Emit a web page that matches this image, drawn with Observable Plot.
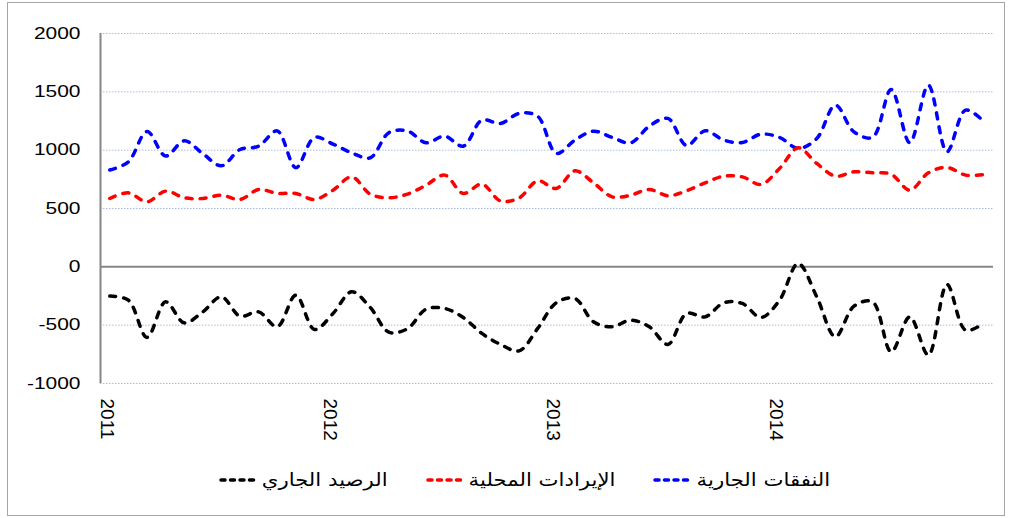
<!DOCTYPE html>
<html><head><meta charset="utf-8">
<script src="https://cdn.jsdelivr.net/npm/d3@7"></script>
<script src="https://cdn.jsdelivr.net/npm/@observablehq/plot@0.6"></script>
<style>
body{margin:0;background:#fff;width:1011px;height:518px;overflow:hidden;position:relative;font-family:"Liberation Sans",Arial,sans-serif;}
#frame{position:absolute;left:7px;top:2px;width:998px;height:514px;border:1px solid #a6a6a6;box-sizing:border-box;}
#chart{position:absolute;left:0;top:0;}
#legend{position:absolute;top:469px;right:181px;display:flex;direction:rtl;gap:37px;align-items:center;}
#legend .item{display:flex;align-items:center;direction:rtl;font-family:"DejaVu Sans",sans-serif;font-size:18px;color:#000;white-space:nowrap;}
#legend .item span{display:inline-block;transform-origin:100% 50%;transform:scaleX(1.18);}
#legend svg{display:block;}
</style>
</head><body>
<div id="frame"></div>
<div id="chart"></div>
<div id="legend"></div>
<script>
const years = ["2011","2012","2013","2014"];
const seriesNames = ["النفقات الجارية","الإيرادات المحلية","الرصيد الجاري"];
const seriesColors = ["#0000ff","#ff0000","#000000"];
const yTicks = [-1000,-500,0,500,1000,1500,2000];

const expenditure = [830,900,1160,950,1080,970,866,1006,1034,1165,850,1109,
  1052,977,935,1150,1165,1063,1120,1034,1257,1229,1315,1290,
  972,1086,1163,1109,1063,1206,1272,1040,1166,1086,1066,1137,
  1109,1015,1100,1386,1157,1110,1520,1063,1557,986,1343,1243];
const revenue = [586,634,557,649,592,586,614,577,663,629,629,577,
  657,771,623,592,623,700,786,629,709,565,590,737,
  672,823,720,600,614,663,609,652,720,777,771,706,
  843,1020,886,777,814,806,794,657,806,852,786,792];
const balance = [-251,-286,-605,-300,-480,-386,-257,-423,-386,-514,-243,-537,
  -400,-214,-348,-560,-530,-363,-357,-434,-571,-665,-720,-528,
  -308,-271,-471,-514,-457,-514,-665,-400,-429,-308,-314,-434,
  -286,29,-257,-600,-337,-300,-728,-429,-757,-151,-543,-480];

const series = [expenditure, revenue, balance];
const rows = [];
series.forEach((vals, s) => vals.forEach((v, i) => rows.push({i, v, s: seriesNames[s]})));
const yearTicks = years.map((label, k) => ({i: k * 12, label}));

const chart = Plot.plot({
  width: 1011, height: 460,
  marginLeft: 100, marginRight: 18, marginTop: 33, marginBottom: 77,
  x: {domain: [-0.5, 47.5], axis: null},
  y: {domain: [-1000, 2000], axis: null},
  color: {domain: seriesNames, range: seriesColors},
  style: {fontFamily: '"Liberation Sans", Arial, sans-serif', color: "#000", background: "transparent"},
  marks: [
    Plot.ruleY(yTicks.filter(d => d !== 0), {stroke: "#a9bce0", strokeDasharray: "1.5,1.5", strokeWidth: 1}),
    Plot.ruleY([0], {stroke: "#868686", strokeWidth: 2}),
    Plot.ruleX([-0.5], {y1: -1000, y2: 2000, stroke: "#868686", strokeWidth: 2}),
    Plot.axisY(yTicks, {label: null, tickSize: 0, tickPadding: 20, fontSize: 16.5, tickFormat: d => String(d), fill: "#000"}),
    Plot.text(yearTicks, {x: "i", y: () => -1000, text: "label", rotate: 90, textAnchor: "start", lineAnchor: "middle", dy: 15, dx: -3, fontSize: 19, fill: "#000"}),
    Plot.line(rows, {x: "i", y: "v", z: "s", stroke: "s", curve: "catmull-rom", strokeWidth: 3.5, strokeDasharray: "6,8", strokeLinecap: "round"})
  ]
});
document.getElementById("chart").appendChild(chart);
d3.select(chart).selectAll('g[aria-label="y-axis tick label"] text')
  .attr("transform", function() { return (this.getAttribute("transform") || "") + " scale(1.27,1)"; });

const legend = document.getElementById("legend");
seriesNames.forEach((name, k) => {
  const item = document.createElement("div");
  item.className = "item";
  const t = document.createElement("span");
  t.textContent = name;
  item.appendChild(t);
  const sw = d3.create("svg").attr("width", 44).attr("height", 12);
  sw.append("line").attr("x1", 3).attr("x2", 41).attr("y1", 6).attr("y2", 6)
    .attr("stroke", seriesColors[k]).attr("stroke-width", 3.5)
    .attr("stroke-dasharray", "4,5.5").attr("stroke-linecap", "round");
  item.appendChild(sw.node());
  legend.appendChild(item);
  t.style.marginLeft = (t.offsetWidth * 0.18) + "px";
});
</script>
</body></html>
